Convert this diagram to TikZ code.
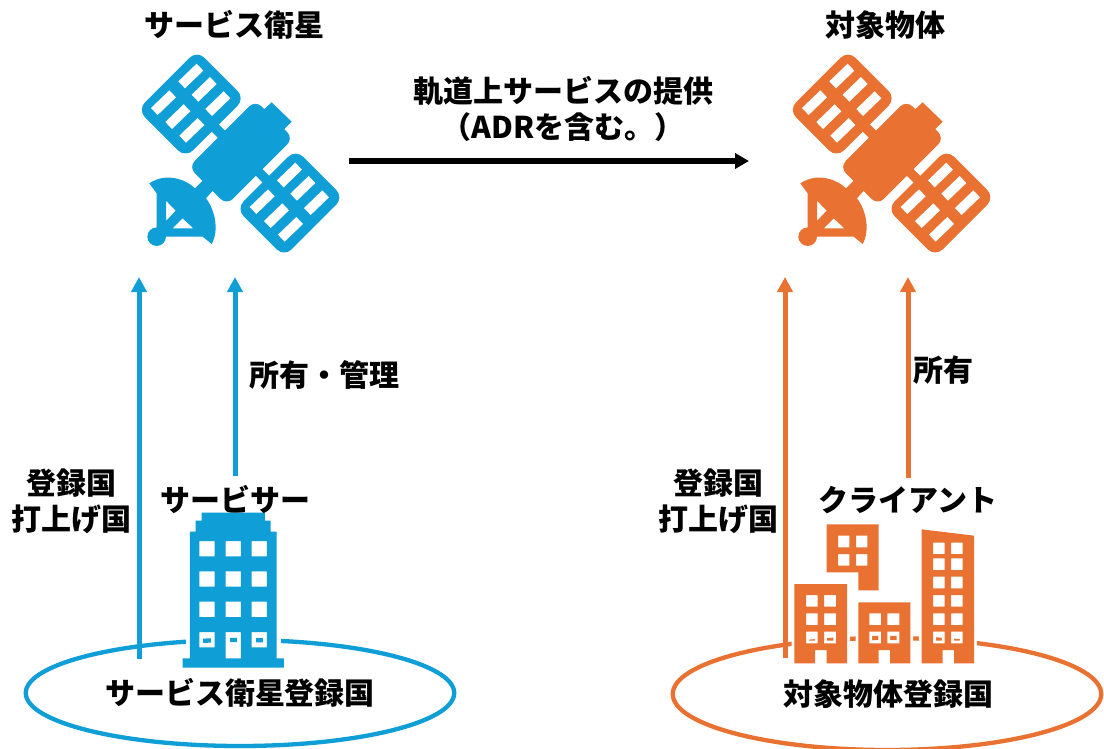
\documentclass[tikz,border=0pt]{standalone}
\usepackage{fontspec}
\setmainfont{Noto Sans CJK JP}
\usetikzlibrary{arrows.meta,shapes.geometric}
\definecolor{sblue}{HTML}{0F9ED5}
\definecolor{sorange}{HTML}{E97132}
\tikzset{
  lbl/.style={inner sep=0pt,font=\fontsize{30}{36}\selectfont\bfseries,align=center,text=black},
  ring/.style={ellipse,line width=4.3pt,fill=none,inner sep=0pt,minimum width=428.5pt},
  uparrow/.style={line width=5pt,-{Triangle[length=15pt,width=15pt]}},
  flowarrow/.style={line width=5.6pt,black,-{Triangle[length=14pt,width=15pt]}},
  zoomunits/.style={x=0.33333pt,y=-0.33333pt},
}
\newcommand{\drawsat}[2]{%
\begin{scope}[shift={(#1,40)},zoomunits]
  \foreach \dx/\dy in {0/0,296/297}{
    \begin{scope}[shift={(\dx,\dy)}]
      \fill[#2,rounded corners=10.5pt] (201,31)--(345,175)--(166.5,353.5)--(22.5,209.5)--cycle;
      \foreach \wx/\wy in {182/110,222/150,263/193,100/190,143/232,185/273}{
        \fill[white] (\wx-37,\wy+14)--(\wx+18,\wy-39)--(\wx+38,\wy-18)--(\wx-17,\wy+35)--cycle;
      }
    \end{scope}
  }
  \fill[#2] (261.5,248.5)--(289,276)--(267.5,297.5)--(240,270)--cycle;
  \fill[#2] (392.5,382.5)--(422.5,412.5)--(402.5,432.5)--(372.5,402.5)--cycle;
  \fill[#2,rounded corners=8.5pt] (376,181)--(490,295)--(290,495)--(176,381)--cycle;
  \fill[#2] (425,187)--(485,245)--(460,270)--(400,210)--cycle;
  \fill[#2,even odd rule] (58,430) .. controls (110,395) and (170,420) .. (195,445)
     -- (220,420) -- (250,450) -- (228,475)
     .. controls (255,510) and (268,570) .. (245,612)
     -- (218,590) -- (80,590) -- (80,460) -- cycle
     (108,482)--(137,512)--(108,543)--cycle
     (128,565)--(158,535)--(190,565)--cycle;
  \fill[#2] (80,590) circle[radius=9.3pt];
\end{scope}}
\newcommand{\bluebuilding}{%
  (548,563)--(548,535)--(570,535)--(570,155)--(587,155)--(587,122)--(605,122)--(605,98)
  --(795,98)--(795,122)--(812,122)--(812,155)--(830,155)--(830,535)--(852,535)--(852,563)--cycle
  (598,183) rectangle (644,229) (677,183) rectangle (723,229) (755,183) rectangle (801,229)
  (598,274) rectangle (644,320) (677,274) rectangle (723,320) (755,274) rectangle (801,320)
  (598,365) rectangle (644,411) (677,365) rectangle (723,411) (755,365) rectangle (801,411)
  (598,456) rectangle (644,502) (677,456) rectangle (723,535) (755,456) rectangle (801,502)}
\newcommand{\orangebuilding}{%
  (433,550)--(433,312)--(591,312)--(591,550)--(530,550)--(530,510)--(495,510)--(495,550)--cycle
  (468,345) rectangle (503,380) (522,345) rectangle (558,380)
  (468,400) rectangle (503,435) (522,400) rectangle (558,435)
  (468,455) rectangle (503,490) (522,455) rectangle (558,490)
  (625,550)--(625,367)--(781,367)--(781,550)--(720,550)--(720,510)--(686,510)--(686,550)--cycle
  (658,400) rectangle (693,435) (712,400) rectangle (748,435)
  (658,455) rectangle (693,490) (712,455) rectangle (748,490)
  (815,550)--(815,148)--(972,167)--(972,550)--(912,550)--(912,510)--(878,510)--(878,550)--cycle
  (849,188) rectangle (884,222) (903,188) rectangle (938,222)
  (849,235) rectangle (884,270) (903,235) rectangle (938,270)
  (849,290) rectangle (884,325) (903,290) rectangle (938,325)
  (849,345) rectangle (884,380) (903,345) rectangle (938,380)
  (849,400) rectangle (884,435) (903,400) rectangle (938,435)
  (849,455) rectangle (884,490) (903,455) rectangle (938,490)
  (530,133)--(686,133)--(686,331)--(625,331)--(625,277)--(530,277)--cycle
  (564,167) rectangle (598,202) (618,167) rectangle (652,202)
  (564,222) rectangle (598,257) (618,222) rectangle (652,257)}
\begin{document}
\begin{tikzpicture}[x=1pt,y=-1pt]
\fill[white] (0,0) rectangle (1104,749);
\clip (0,0) rectangle (1104,749);
\node[ring,draw=sblue,minimum height=106pt] (ringL) at (240,693) {};
\node[ring,draw=sorange,minimum height=112pt] (ringR) at (887,694) {};
\begin{scope}[shift={(0,480)},zoomunits]
  \draw[white,line width=8pt] \bluebuilding;
  \fill[sblue,even odd rule] \bluebuilding;
\end{scope}
\begin{scope}[shift={(650,480)},zoomunits]
  \draw[white,line width=5.5pt] \orangebuilding;
  \fill[sorange,even odd rule] \orangebuilding;
\end{scope}
\drawsat{130}{sblue}
\drawsat{781}{sorange}
\coordinate (satLa) at (139,277);
\coordinate (satLb) at (235,277);
\coordinate (satRa) at (785,277);
\coordinate (satRb) at (908,277);
\coordinate (baseLa) at (139,659);
\coordinate (baseRa) at (785,658);
\coordinate (srvtop) at (235,476);
\coordinate (clitop) at (908,478);
\coordinate (flowA) at (349,161);
\coordinate (flowB) at (749,161);
\draw[uparrow,sblue] (baseLa) -- (satLa);
\draw[uparrow,sblue] (srvtop) -- (satLb);
\draw[uparrow,sorange] (baseRa) -- (satRa);
\draw[uparrow,sorange] (clitop) -- (satRb);
\draw[flowarrow] (flowA) -- (flowB);
\node[lbl] (t1) at (234,25) {サービス衛星};
\node[lbl] (t2) at (885,25) {対象物体};
\node[lbl] (t3) at (563,109) {軌道上サービスの提供\\（ADRを含む。）};
\node[lbl] (t4) at (324,375) {所有・管理};
\node[lbl] (t5) at (943,370) {所有};
\node[lbl] (t6) at (72,501) {登録国\\打上げ国};
\node[lbl] (t7) at (718,501) {登録国\\打上げ国};
\node[lbl] (t8) at (235,499) {サービサー};
\node[lbl] (t9) at (908,500) {クライアント};
\node[lbl] (t10) at (240,693) {サービス衛星登録国};
\node[lbl] (t11) at (888,694) {対象物体登録国};
\end{tikzpicture}
\end{document}
